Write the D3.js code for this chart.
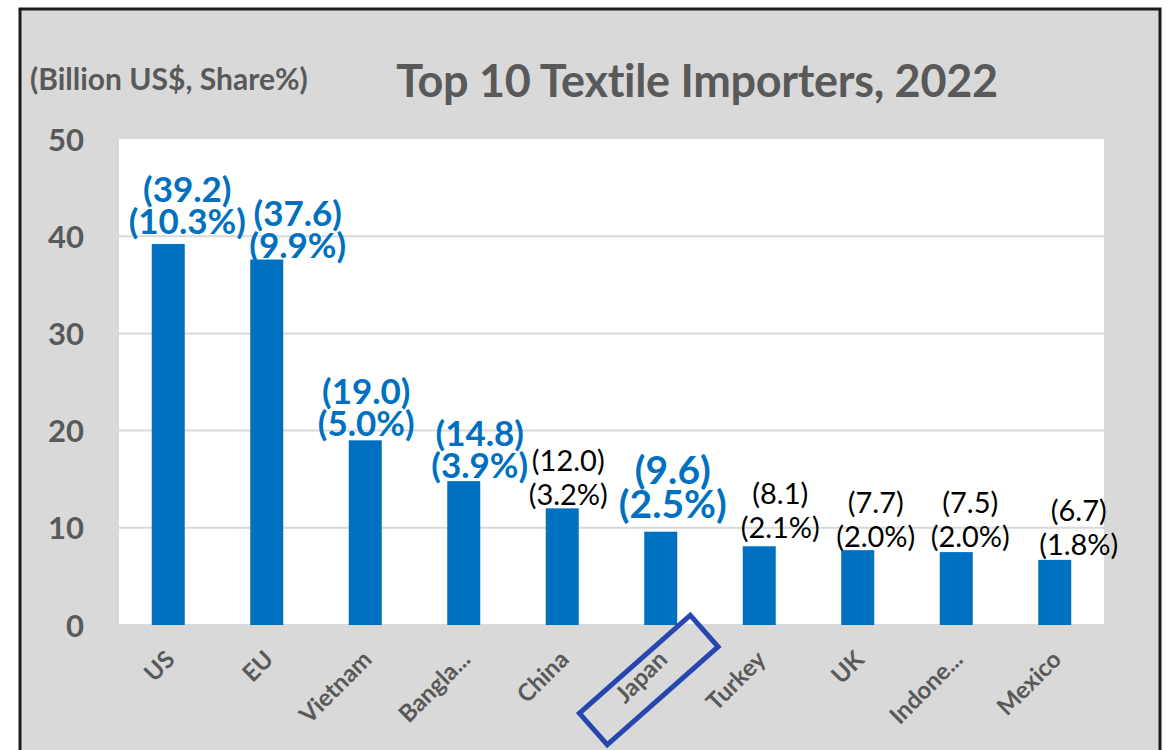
<!DOCTYPE html>
<html>
<head>
<meta charset="utf-8">
<script src="https://cdn.jsdelivr.net/npm/d3@7"></script>
<style>
  body { margin: 0; background: #fff; }
  text { font-family: Lato, "Open Sans", sans-serif; }
</style>
</head>
<body>
<svg id="chart" width="1173" height="750"></svg>
<script>
// data
var countries = ["US", "EU", "Vietnam", "Bangla...", "China", "Japan", "Turkey", "UK", "Indone...", "Mexico"];
var values    = [39.2, 37.6, 19.0, 14.8, 12.0, 9.6, 8.1, 7.7, 7.5, 6.7];
var shares    = [10.3, 9.9, 5.0, 3.9, 3.2, 2.5, 2.1, 2.0, 2.0, 1.8];
var emphasis  = ["blue", "blue", "blue", "blue", "plain", "big", "plain", "plain", "plain", "plain"];
var yTicks    = [0, 10, 20, 30, 40, 50];
var highlight = "Japan";

var svg = d3.select("#chart");
var plot = {left: 119, right: 1104, top: 139, bottom: 625};
var blue = "#0070C0", grey = "#595959";

// frame
svg.append("rect")
    .attr("x", 20).attr("y", 9)
    .attr("width", 1140).attr("height", 760)
    .attr("fill", "#D9D9D9")
    .attr("stroke", "#1a1a1a")
    .attr("stroke-width", 3);

svg.append("rect")
    .attr("x", plot.left).attr("y", plot.top)
    .attr("width", plot.right - plot.left)
    .attr("height", plot.bottom - plot.top)
    .attr("fill", "#fff");

var x = d3.scaleBand()
    .domain(countries)
    .range([plot.left, plot.right])
    .paddingInner(0.665)
    .paddingOuter(0.3325);

var y = d3.scaleLinear()
    .domain([0, 50])
    .range([plot.bottom, plot.top]);

// gridlines
svg.append("g")
  .selectAll("line")
    .data(yTicks.filter(function(d) { return d < 50; }))
  .enter().append("line")
    .attr("x1", plot.left).attr("x2", plot.right)
    .attr("y1", function(d) { return y(d); })
    .attr("y2", function(d) { return y(d); })
    .attr("stroke", "#D9D9D9")
    .attr("stroke-width", 2);

// y axis labels
var yAxis = svg.append("g")
    .attr("transform", "translate(" + (plot.left - 35) + ",0)")
    .call(d3.axisLeft(y).tickValues(yTicks).tickSize(0).tickPadding(0));
yAxis.select(".domain").remove();
yAxis.selectAll("text")
    .attr("dy", "0.36em")
    .style("font-family", "Lato, sans-serif")
    .style("font-size", "31px")
    .style("font-weight", "bold")
    .attr("fill", grey);

// bars
var data = countries.map(function(c, i) {
  return {name: c, value: values[i], share: shares[i], style: emphasis[i]};
});

svg.append("g")
  .selectAll("rect")
    .data(data)
  .enter().append("rect")
    .attr("x", function(d) { return x(d.name); })
    .attr("y", function(d) { return y(d.value); })
    .attr("width", x.bandwidth())
    .attr("height", function(d) { return y(0) - y(d.value); })
    .attr("fill", blue);

// data labels, two lines each; labels were hand-dragged in the original
var nudge = {
  "US": [19, -10], "EU": [31, -2], "Vietnam": [1, -4], "Bangla...": [16, -3],
  "China": [6, -3], "Japan": [12, -14], "Turkey": [21, -8], "UK": [18, -3],
  "Indone...": [14, -5], "Mexico": [24, -5]
};
var lineGap = {blue: 32, big: 34, plain: 34};
var size = {blue: 35, big: 39, plain: 29};
var labels = svg.append("g")
  .selectAll("text")
    .data(data)
  .enter().append("text")
    .attr("text-anchor", "middle")
    .attr("fill", function(d) { return d.style == "plain" ? "#000" : blue; })
    .style("font-weight", function(d) { return d.style == "plain" ? "normal" : "bold"; })
    .style("font-size", function(d) { return size[d.style] + "px"; })
    .attr("transform", function(d) {
      var n = nudge[d.name];
      var cx = x(d.name) + x.bandwidth() / 2 + n[0];
      var base = y(d.value) + n[1];
      return "translate(" + cx + "," + base + ")";
    });

labels.append("tspan")
    .attr("x", 0)
    .attr("y", function(d) { return -lineGap[d.style]; })
    .text(function(d) { return "(" + d.value.toFixed(1) + ")"; });
labels.append("tspan")
    .attr("x", 0)
    .attr("y", 0)
    .text(function(d) { return "(" + d.share.toFixed(1) + "%)"; });

// category labels, rotated
svg.append("g")
  .selectAll("text")
    .data(countries)
  .enter().append("text")
    .attr("text-anchor", "end")
    .attr("transform", function(d) {
      return "translate(" + (x(d) + x.bandwidth() / 2 + 8) + "," + (plot.bottom + 36) + ") rotate(-45)";
    })
    .style("font-size", "24px")
    .style("font-weight", "bold")
    .attr("fill", grey)
    .text(function(d) { return d; });

// box round the highlighted category
var hx = x(highlight) + x.bandwidth() / 2 - 12;
svg.append("rect")
    .attr("x", -74).attr("y", -21)
    .attr("width", 148).attr("height", 42)
    .attr("transform", "translate(" + hx + "," + (plot.bottom + 55) + ") rotate(-41.5)")
    .attr("fill", "none")
    .attr("stroke", "#2646B0")
    .attr("stroke-width", 5);

// titles
svg.append("text")
    .attr("x", 697).attr("y", 97)
    .attr("text-anchor", "middle")
    .style("font-size", "45px")
    .style("font-weight", "bold")
    .style("letter-spacing", "-0.3px")
    .attr("fill", grey)
    .text("Top 10 Textile Importers, 2022");

svg.append("text")
    .attr("x", 30).attr("y", 90)
    .style("font-size", "30px")
    .style("font-weight", "bold")
    .attr("fill", grey)
    .text("(Billion US$, Share%)");
</script>
</body>
</html>
